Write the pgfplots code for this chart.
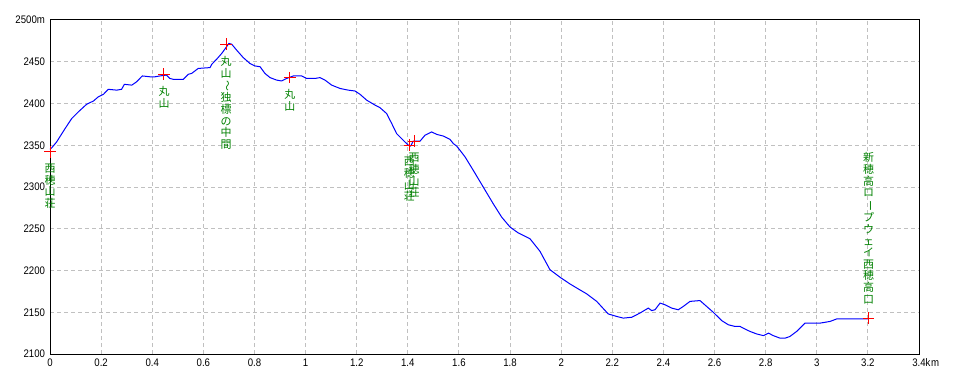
\documentclass[border=0pt]{standalone}
\usepackage{fontspec}
\usepackage{graphicx}
\usepackage{pgfplots}
\pgfplotsset{compat=1.18}
\setmainfont{Liberation Sans}
\newfontfamily\tickfont[FakeStretch=0.88]{Liberation Sans}
\newfontfamily\cjk{Noto Sans CJK JP}
\definecolor{lblgreen}{RGB}{0,128,0}
\definecolor{gridgray}{RGB}{192,192,192}
\newcommand{\vw}{\rotatebox[origin=c]{-90}{～}}
\newcommand{\vb}{\rotatebox[origin=c]{-90}{ー}}
\tikzset{lbl/.style={text=lblgreen, inner sep=0pt, align=center, font=\cjk\fontsize{11}{11.7}\selectfont}}
\begin{document}
\begin{tikzpicture}[x=1bp,y=1bp]
\useasboundingbox (0,0) rectangle (960,384);
\begin{axis}[
  at={(50bp,30bp)}, anchor=south west,
  scale only axis, width=869bp, height=334bp,
  xmin=0, xmax=3.4, ymin=2100, ymax=2500,
  xtick={0,0.2,0.4,0.6,0.8,1,1.2,1.4,1.6,1.8,2,2.2,2.4,2.6,2.8,3,3.2,3.4},
  xticklabels={0,0.2,0.4,0.6,0.8,1,1.2,1.4,1.6,1.8,2,2.2,2.4,2.6,2.8,3,3.2,3.4\rlap{k\kern0.5bp m}},
  ytick={2100,2150,2200,2250,2300,2350,2400,2450,2500},
  yticklabels={2100,2150,2200,2250,2300,2350,2400,2450,2500m},
  major tick length=0pt,
  tick label style={font=\tickfont\fontsize{11}{12}\selectfont},
  xticklabel style={yshift=-1bp},
  yticklabel style={xshift=-1.5bp},
  /pgf/number format/assume math mode=true,
  grid=major,
  major grid style={gridgray, dash pattern=on 4bp off 3bp, line width=1bp},
  axis line style={black, line width=1bp},
  clip=false,
]
\addplot[blue, line width=1bp, mark=none] coordinates {
(0,2345)(0.007,2347)(0.026,2354)(0.059,2370)(0.085,2382)(0.111,2390)(0.143,2399)(0.170,2403)(0.189,2408)(0.209,2411)(0.228,2417)(0.261,2416)(0.280,2417)(0.291,2423)(0.320,2422)(0.339,2426)(0.361,2433)(0.391,2432)(0.411,2432)(0.430,2433)(0.456,2434)(0.469,2430)(0.482,2429)(0.522,2429)(0.541,2435)(0.554,2436)(0.580,2442)(0.626,2443)(0.633,2447)(0.652,2453)(0.672,2460)(0.691,2468)(0.700,2472)(0.711,2471)(0.730,2464)(0.756,2455)(0.782,2448)(0.802,2445)(0.822,2444)(0.841,2436)(0.861,2431)(0.887,2428)(0.906,2427)(0.926,2430)(0.952,2433)(0.985,2433)(1.004,2430)(1.037,2430)(1.056,2431)(1.076,2428)(1.102,2422)(1.135,2418)(1.167,2416)(1.193,2415)(1.213,2411)(1.239,2404)(1.272,2398)(1.291,2395)(1.317,2388)(1.337,2376)(1.356,2364)(1.382,2356)(1.402,2350)(1.411,2349)(1.421,2355)(1.448,2355)(1.467,2362)(1.493,2366)(1.513,2363)(1.539,2361)(1.565,2357)(1.578,2352)(1.591,2349)(1.604,2344)(1.624,2336)(1.656,2320)(1.695,2300)(1.734,2280)(1.767,2264)(1.800,2252)(1.832,2245)(1.878,2238)(1.917,2223)(1.956,2201)(1.995,2192)(2.034,2184)(2.061,2179)(2.100,2172)(2.139,2163)(2.184,2148)(2.217,2145)(2.243,2143)(2.276,2144)(2.308,2149)(2.341,2155)(2.354,2152)(2.367,2153)(2.387,2161)(2.406,2159)(2.432,2155)(2.458,2153)(2.478,2157)(2.504,2163)(2.543,2164)(2.569,2157)(2.595,2150)(2.628,2140)(2.654,2135)(2.680,2133)(2.700,2133)(2.712,2131)(2.739,2127)(2.765,2124)(2.791,2122)(2.811,2125)(2.830,2122)(2.856,2119)(2.876,2119)(2.895,2121)(2.921,2127)(2.954,2137)(2.980,2137)(3.013,2137)(3.052,2139)(3.078,2142)(3.143,2142)(3.200,2142)
};
\addplot[red, only marks, mark=+, mark size=5.8bp, line width=1bp] coordinates {
(0,2342)(0.446,2435)(0.689,2471)(0.938,2431)(1.406,2350)(1.425,2355)(3.203,2143)
};
\node[lbl, anchor=north, yshift=-12bp] at (axis cs:0,2342) {西\\穂\\山\\荘};
\node[lbl, anchor=north, yshift=-12bp] at (axis cs:0.446,2435) {丸\\山};
\node[lbl, anchor=north, yshift=-12bp] at (axis cs:0.689,2471) {丸\\山\\\vw\\独\\標\\の\\中\\間};
\node[lbl, anchor=north, yshift=-12bp] at (axis cs:0.938,2431) {丸\\山};
\node[lbl, anchor=north, yshift=-12bp] at (axis cs:1.406,2350) {西\\穂\\山\\荘};
\node[lbl, anchor=north, yshift=-12bp] at (axis cs:1.425,2355) {西\\穂\\山\\荘};
\node[lbl, anchor=south, yshift=14bp] at (axis cs:3.203,2143) {新\\穂\\高\\ロ\\\vb\\プ\\ウ\\ェ\\イ\\西\\穂\\高\\口};
\end{axis}
\end{tikzpicture}
\end{document}
